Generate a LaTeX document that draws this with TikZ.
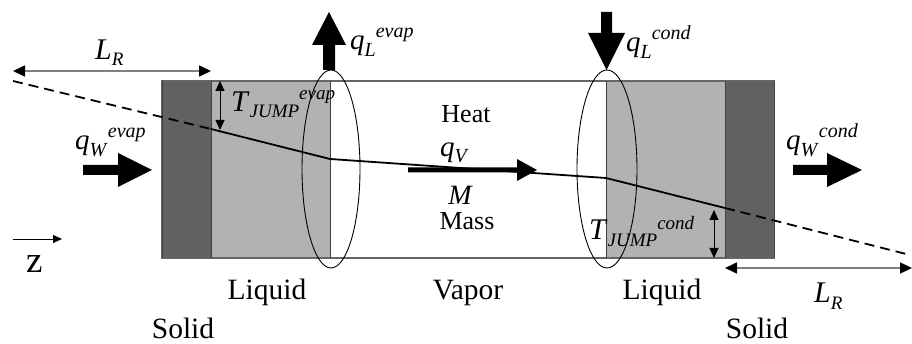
\documentclass[tikz,border=0pt]{standalone}
\usepackage{fontspec}
\setmainfont{Liberation Serif}
\usetikzlibrary{arrows.meta}
\newcommand\fsz[1]{\fontsize{#1}{#1}\selectfont}
% base, sub, sup, base size, small size, sub drop, sup raise
\newcommand\tlabel[7]{\fsz{#4}\textit{#1}\raisebox{-#6}{\fsz{#5}\textit{#2}}\raisebox{#7}{\fsz{#5}\textit{#3}}}
\begin{document}
\begin{tikzpicture}[x=1pt,y=-1pt,
  solidfill/.style={fill=black!62},
  liquidfill/.style={fill=black!30},
  wallline/.style={draw=black!75,line width=1pt},
  edgeline/.style={draw=black!60,line width=1.3pt},
  templine/.style={line width=1.8pt,line cap=round},
  tempdash/.style={line width=1.8pt,dash pattern=on 10pt off 6pt},
  lenarrow/.style={draw=black!50,line width=1.6pt,
    {Triangle[length=12pt,width=11pt,color=black]}-{Triangle[length=12pt,width=11pt,color=black]}},
  jumparrow/.style={line width=0.9pt,
    {Triangle[length=10pt,width=9pt]}-{Triangle[length=10pt,width=9pt]}},
  fatarrow/.style={fill=black},
  lbl/.style={inner sep=0pt,anchor=base west},
  word/.style={inner sep=0pt,anchor=base,font=\fsz{29.5}},
  inword/.style={inner sep=0pt,anchor=base,font=\fsz{26}},
  ring/.style={draw=black,line width=0.9pt}
]
\useasboundingbox (0,0) rectangle (912,344);
% regions
\fill[solidfill] (162,81) rectangle (211,258);
\fill[liquidfill] (211,81) rectangle (330,258);
\fill[liquidfill] (606,81) rectangle (725,258);
\fill[solidfill] (725,81) rectangle (774,258);
\draw[edgeline] (162,81) rectangle (774,258);
\draw[wallline] (162,81) -- (162,258);
\draw[wallline] (211,81) -- (211,258);
\draw[wallline] (330,81) -- (330,258);
\draw[wallline] (606,81) -- (606,258);
\draw[wallline] (725,81) -- (725,258);
\draw[wallline] (774,81) -- (774,258);
% temperature profile
\coordinate (t0) at (13,81);
\coordinate (t1) at (211,129);
\coordinate (t2) at (330,159);
\coordinate (t3) at (606,178);
\coordinate (t4) at (725,208);
\coordinate (t5) at (910,255);
\draw[tempdash] (t0) -- (t1);
\draw[templine] (t1) -- (t2) -- (t3) -- (t4);
\draw[tempdash] (t4) -- (t5);
% interfaces
\draw[ring] (331,169) ellipse [x radius=29, y radius=99];
\draw[ring] (607,169) ellipse [x radius=30, y radius=99];
% length arrows
\coordinate (la) at (13,71);
\coordinate (lb) at (211,71);
\draw[lenarrow] (la) -- (lb);
\coordinate (lc) at (725,268);
\coordinate (ld) at (912,268);
\draw[lenarrow] (lc) -- (ld);
% jump arrows
\coordinate (ja) at (220,81);
\coordinate (jb) at (220,130);
\draw[jumparrow] (ja) -- (jb);
\coordinate (jc) at (714,210);
\coordinate (jd) at (714,258);
\draw[jumparrow] (jc) -- (jd);
% z axis arrow
\coordinate (za) at (13,239);
\coordinate (zb) at (62,239);
\draw[line width=0.9pt,-{Triangle[length=9pt,width=8pt]}] (za) -- (zb);
% fat arrows
\fill[fatarrow] (83,165) -- (118,165) -- (118,153) -- (152,170) -- (118,187) -- (118,175) -- (83,175) -- cycle;
\fill[fatarrow] (793,165) -- (827,165) -- (827,153) -- (862,170) -- (827,187) -- (827,175) -- (793,175) -- cycle;
\fill[fatarrow] (323,70) -- (323,45) -- (312,45) -- (329,12) -- (346,45) -- (335,45) -- (335,70) -- cycle;
\fill[fatarrow] (601,12) -- (612,12) -- (612,33) -- (625,33) -- (606.5,70) -- (588,33) -- (601,33) -- cycle;
\fill[fatarrow] (408,167.5) -- (517,167.5) -- (517,159) -- (537,170) -- (517,181) -- (517,172.5) -- (408,172.5) -- cycle;
% labels
\node[lbl] (lrtop) at (95,60) {\tlabel{L}{R}{}{30}{19}{6pt}{0pt}};
\node[lbl] (lrbot) at (814,303) {\tlabel{L}{R}{}{30}{19}{6pt}{0pt}};
\node[lbl] (qle) at (350,50) {\tlabel{q}{L}{evap}{29}{20}{7pt}{12pt}};
\node[lbl] (qlc) at (626,52) {\tlabel{q}{L}{cond}{29}{20}{7pt}{12pt}};
\node[lbl] (qwe) at (75,150) {\tlabel{q}{W}{evap}{29}{20}{7pt}{12pt}};
\node[lbl] (qwc) at (786,150) {\tlabel{q}{W}{cond}{29}{20}{7pt}{12pt}};
\node[lbl] (tje) at (231,112) {\tlabel{T}{JUMP}{evap}{30}{19}{6pt}{12pt}};
\node[lbl] (tjc) at (589,240) {\tlabel{T}{JUMP}{cond}{30}{19}{7pt}{10pt}};
\node[inword] (heat) at (466,123) {Heat};
\node[lbl] (qv) at (440,157) {\tlabel{q}{V}{}{29}{20}{6pt}{0pt}};
\node[inword,font=\fsz{28}\itshape] (mm) at (460,205) {M};
\node[inword] (mass) at (467,230) {Mass};
\node[word] (liqL) at (267,300) {Liquid};
\node[word] (vap) at (468,300) {Vapor};
\node[word] (liqR) at (662,300) {Liquid};
\node[word] (solL) at (183,338) {Solid};
\node[word] (solR) at (757,338) {Solid};
\node[lbl,font=\fsz{37}] (zz) at (26,273) {z};
\end{tikzpicture}
\end{document}
